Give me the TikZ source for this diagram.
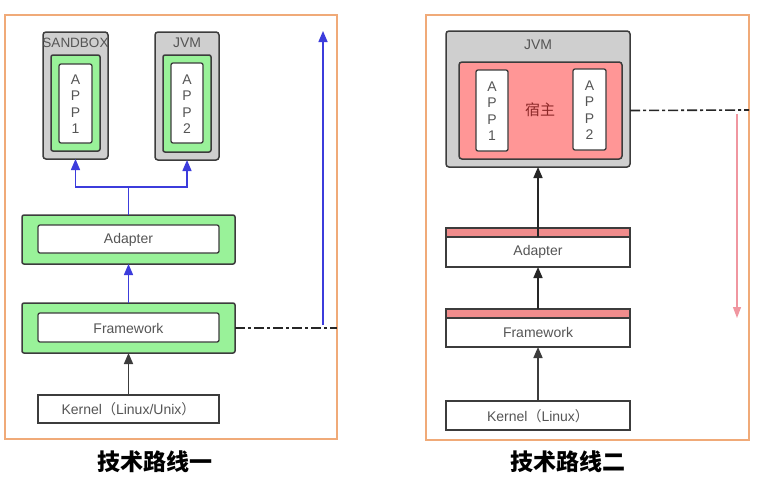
\documentclass[tikz,border=0pt]{standalone}
\usepackage{fontspec}
\setmainfont{Liberation Sans}
\newfontfamily\cjk{Noto Sans CJK SC}
\usetikzlibrary{arrows.meta}
\definecolor{frameor}{RGB}{240,170,120}
\definecolor{lgreen}{RGB}{153,242,153}
\definecolor{boxgray}{RGB}{207,207,207}
\definecolor{hostpink}{RGB}{255,150,150}
\definecolor{strippink}{RGB}{240,140,140}
\definecolor{arrblue}{RGB}{60,60,220}
\definecolor{arrpink}{RGB}{240,150,160}
\definecolor{edge}{RGB}{60,60,60}
\definecolor{txt}{RGB}{85,85,85}
\definecolor{hosttxt}{RGB}{140,40,40}
\tikzset{
  base/.style={rectangle,inner sep=0pt,outer sep=0pt},
  panel/.style={base,draw=frameor,line width=1.2pt},
  graybox/.style={base,draw=edge,fill=boxgray,line width=1.5pt,rounded corners=3pt},
  greenbox/.style={base,draw=edge,fill=lgreen,line width=1.5pt,rounded corners=2pt},
  whitebox/.style={base,draw=edge,fill=white,line width=1.3pt,rounded corners=2pt},
  hostbox/.style={base,draw=edge,fill=hostpink,line width=1.5pt,rounded corners=3pt},
  layerbox/.style={base,draw=edge,fill=white,line width=1.3pt},
  stripbox/.style={base,draw=edge,fill=strippink,line width=1.3pt},
  lbl/.style={font=\fontsize{14}{16}\selectfont,text=txt},
  applbl/.style={font=\fontsize{14}{16.5}\selectfont,text=txt,align=center},
  blueArr/.style={draw=arrblue,line width=1.5pt,-{Triangle[length=11pt,width=9pt]}},
  blackArr/.style={draw=black!85,line width=1.6pt,-{Triangle[length=11pt,width=9pt]}},
  grayArr/.style={draw=edge,line width=1.6pt,-{Triangle[length=11pt,width=9pt]}},
  pinkArr/.style={draw=arrpink,line width=1.2pt,-{Triangle[length=11pt,width=8pt]}},
  dashdot/.style={draw=black!85,line width=1.6pt,dash pattern=on 10pt off 3pt on 3pt off 3pt},
  title/.style={font=\cjk\bfseries\fontsize{23}{26}\selectfont,text=black}
}
\begin{document}
\begin{tikzpicture}[x=1pt,y=-1pt]
\fill[white] (0,0) rectangle (760,482);
\useasboundingbox (0,0) rectangle (760,482);
% ---------- panels ----------
\node[panel,minimum width=323pt,minimum height=425pt] (frameR) at (587.5,227.5) {};
\node[panel,minimum width=332pt,minimum height=424pt] (frameL) at (171,227) {};
% ---------- left panel ----------
\node[graybox,minimum width=65pt,minimum height=127pt] (sbox) at (75.5,95.5) {};
\node[lbl,font=\fontsize{13.5}{16}\selectfont] (sboxlbl) at (75.5,43) {SANDBOX};
\node[greenbox,minimum width=49pt,minimum height=96pt] (sgreen) at (75.5,103) {};
\node[whitebox,minimum width=33pt,minimum height=79pt] (sapp) at (75.5,103.5) {};
\node[applbl] (sapplbl) at (75.5,104) {A\\P\\P\\1};
\node[graybox,minimum width=64pt,minimum height=128pt] (jbox) at (187,96) {};
\node[lbl] (jboxlbl) at (187,43) {JVM};
\node[greenbox,minimum width=48pt,minimum height=97pt] (jgreen) at (187,103.5) {};
\node[whitebox,minimum width=32pt,minimum height=80pt] (japp) at (187,103) {};
\node[applbl] (japplbl) at (187,104) {A\\P\\P\\2};
\node[greenbox,minimum width=213pt,minimum height=49pt] (adaptL) at (128.5,239.5) {};
\node[whitebox,minimum width=181pt,minimum height=28pt] (adaptLi) at (128.5,239) {};
\node[lbl] (adaptLlbl) at (128.5,239.5) {Adapter};
\node[greenbox,minimum width=213pt,minimum height=50pt] (fwL) at (128.5,328) {};
\node[whitebox,minimum width=181pt,minimum height=29pt] (fwLi) at (128.5,327.5) {};
\node[lbl] (fwLlbl) at (128.5,328) {Framework};
\node[layerbox,minimum width=181pt,minimum height=28pt] (kernL) at (128.5,409) {};
\node[lbl] (kernLlbl) at (128.5,409.5) {Kernel{\cjk （}Linux/Unix{\cjk ）}};
\coordinate (jn) at (128.5,187);
\draw[draw=arrblue,line width=1.5pt] (adaptL.north) -- (jn);
\draw[blueArr] (jn) -| (sbox.south);
\draw[blueArr] (jn) -| (jbox.south);
\draw[blueArr] (fwL.north) -- (adaptL.south);
\draw[grayArr] (kernL.north) -- (fwL.south);
\coordinate (dLend) at (337,328);
\draw[dashdot] (fwL.east) -- (dLend);
\coordinate (bL1) at (323,325);
\coordinate (bL2) at (323,31);
\draw[blueArr] (bL1) -- (bL2);
\node[title] (titleL) at (155,462) {技术路线一};
% ---------- right panel ----------
\node[graybox,minimum width=184pt,minimum height=136pt] (jvmR) at (538,99) {};
\node[lbl] (jvmRlbl) at (538,45) {JVM};
\node[hostbox,minimum width=163pt,minimum height=97pt] (hostR) at (540.5,110.5) {};
\node[font=\cjk\fontsize{15}{17}\selectfont,text=hosttxt] (hostlbl) at (540,110) {宿主};
\node[whitebox,minimum width=32pt,minimum height=81pt] (app1R) at (492,110.5) {};
\node[applbl] (app1Rlbl) at (492,111) {A\\P\\P\\1};
\node[whitebox,minimum width=33pt,minimum height=81pt] (app2R) at (589.5,109.5) {};
\node[applbl] (app2Rlbl) at (589.5,110) {A\\P\\P\\2};
\node[layerbox,minimum width=184pt,minimum height=39pt] (adaptR) at (538,247.5) {};
\node[stripbox,minimum width=184pt,minimum height=9pt] (adaptRs) at (538,232.5) {};
\node[lbl] (adaptRlbl) at (538,252) {Adapter};
\node[layerbox,minimum width=184pt,minimum height=38pt] (fwR) at (538,328) {};
\node[stripbox,minimum width=184pt,minimum height=9pt] (fwRs) at (538,313.5) {};
\node[lbl] (fwRlbl) at (538,332.5) {Framework};
\node[layerbox,minimum width=184pt,minimum height=29pt] (kernR) at (538,415.5) {};
\node[lbl] (kernRlbl) at (538,416) {Kernel{\cjk （}Linux{\cjk ）}};
\draw[blackArr] (adaptRs.south) -- (jvmR.south);
\draw[blackArr] (fwRs.north) -- (adaptR.south);
\draw[grayArr] (kernR.north) -- (fwR.south);
\coordinate (dRend) at (749,110);
\draw[dashdot] (hostR.east -| jvmR.east) -- (dRend);
\coordinate (pR1) at (737,114);
\coordinate (pR2) at (737,318);
\draw[pinkArr] (pR1) -- (pR2);
\node[title] (titleR) at (568,462) {技术路线二};
\end{tikzpicture}
\end{document}
